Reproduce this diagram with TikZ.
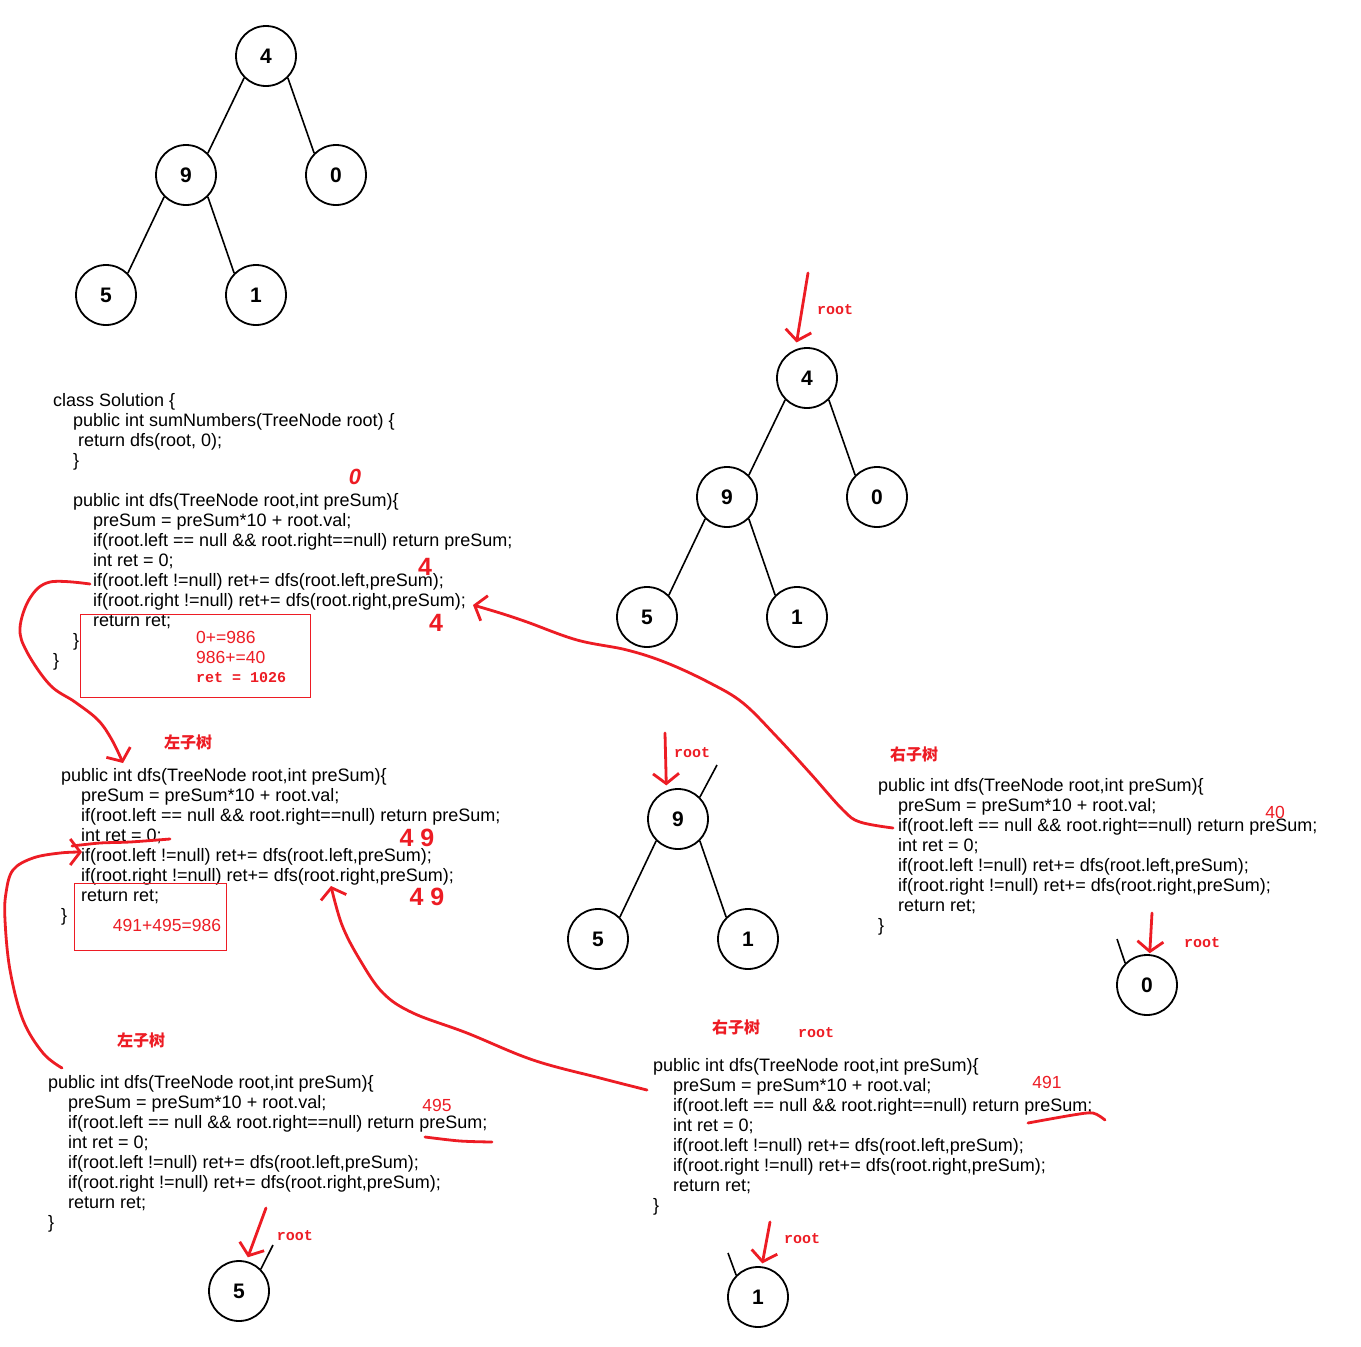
\documentclass[tikz,border=0pt]{standalone}
\usepackage{fontspec}
\usetikzlibrary{arrows.meta}
\newfontfamily\codefont{Liberation Sans}
\newfontfamily\monofont{Liberation Mono}
\newfontfamily\cjkfont{Noto Sans CJK SC}
\definecolor{pred}{HTML}{ED1C24}
\begin{document}
\begin{tikzpicture}[x=1pt,y=-1pt,
 tn/.style={circle,draw,line width=1.8pt,minimum size=60pt,inner sep=0pt,font=\codefont\bfseries\fontsize{21}{21}\selectfont},
 edge/.style={line width=1.6pt},
 code/.style={anchor=north west,align=left,inner sep=0pt,font=\codefont\fontsize{18}{20}\selectfont},
 pen/.style={draw=pred,line width=2.8pt,line cap=round,line join=round},
 hand/.style={-{Straight Barb[length=10pt,width=26pt]}},
 rtxt/.style={text=pred,inner sep=0pt,font=\codefont\fontsize{17.5}{20}\selectfont},
 rootlbl/.style={text=pred,inner sep=0pt,font=\monofont\bfseries\fontsize{15}{15}\selectfont},
 cjk/.style={text=pred,inner sep=0pt,font=\cjkfont\bfseries\fontsize{16}{16}\selectfont},
 hw/.style={text=pred,inner sep=0pt,font=\codefont\bfseries\fontsize{25}{25}\selectfont},
 rbox/.style={draw=pred,line width=1pt},
]
\path[use as bounding box,fill=white] (0,0) rectangle (1361,1347);

% ---------- tree 1 ----------
\node[tn] (a4) at (266,56) {4};
\node[tn] (a9) at (186,175) {9};
\node[tn] (a0) at (336,175) {0};
\node[tn] (a5) at (106,295) {5};
\node[tn] (a1) at (256,295) {1};
\draw[edge] (a4.225) -- (a9.45); \draw[edge] (a4.-45) -- (a0.135);
\draw[edge] (a9.225) -- (a5.45); \draw[edge] (a9.-45) -- (a1.135);

% ---------- tree 2 ----------
\node[tn] (b4) at (807,378) {4};
\node[tn] (b9) at (727,497) {9};
\node[tn] (b0) at (877,497) {0};
\node[tn] (b5) at (647,617) {5};
\node[tn] (b1) at (797,617) {1};
\draw[edge] (b4.225) -- (b9.45); \draw[edge] (b4.-45) -- (b0.135);
\draw[edge] (b9.225) -- (b5.45); \draw[edge] (b9.-45) -- (b1.135);

% ---------- tree 3 ----------
\node[tn] (c9) at (678,819) {9};
\node[tn] (c5) at (598,939) {5};
\node[tn] (c1) at (748,939) {1};
\coordinate (c9s) at (717,765);
\draw[edge] (c9.225) -- (c5.45); \draw[edge] (c9.-45) -- (c1.135); \draw[edge] (c9.45) -- (c9s);

% ---------- single nodes ----------
\node[tn] (d0) at (1147,985) {0};
\coordinate (d0s) at (1117,939);
\draw[edge] (d0.135) -- (d0s);
\node[tn] (e5) at (239,1291) {5};
\coordinate (e5s) at (273,1245);
\draw[edge] (e5.45) -- (e5s);
\node[tn] (f1) at (758,1297) {1};
\coordinate (f1s) at (728,1253);
\draw[edge] (f1.135) -- (f1s);

% ---------- code blocks ----------
\node[code] (code1) at (53,393) {class Solution \{\\
\hspace*{20pt}public int sumNumbers(TreeNode root) \{\\
\hspace*{25pt}return dfs(root, 0);\\
\hspace*{20pt}\}\\[20pt]
\hspace*{20pt}public int dfs(TreeNode root,int preSum)\{\\
\hspace*{40pt}preSum = preSum*10 + root.val;\\
\hspace*{40pt}if(root.left == null \&\& root.right==null) return preSum;\\
\hspace*{40pt}int ret = 0;\\
\hspace*{40pt}if(root.left !=null) ret+= dfs(root.left,preSum);\\
\hspace*{40pt}if(root.right !=null) ret+= dfs(root.right,preSum);\\
\hspace*{40pt}return ret;\\
\hspace*{20pt}\}\\
\}};

\node[code] (code2) at (61,768) {public int dfs(TreeNode root,int preSum)\{\\
\hspace*{20pt}preSum = preSum*10 + root.val;\\
\hspace*{20pt}if(root.left == null \&\& root.right==null) return preSum;\\
\hspace*{20pt}int ret = 0;\\
\hspace*{20pt}if(root.left !=null) ret+= dfs(root.left,preSum);\\
\hspace*{20pt}if(root.right !=null) ret+= dfs(root.right,preSum);\\
\hspace*{20pt}return ret;\\
\}};

\node[code] (code3) at (48,1075) {public int dfs(TreeNode root,int preSum)\{\\
\hspace*{20pt}preSum = preSum*10 + root.val;\\
\hspace*{20pt}if(root.left == null \&\& root.right==null) return preSum;\\
\hspace*{20pt}int ret = 0;\\
\hspace*{20pt}if(root.left !=null) ret+= dfs(root.left,preSum);\\
\hspace*{20pt}if(root.right !=null) ret+= dfs(root.right,preSum);\\
\hspace*{20pt}return ret;\\
\}};

\node[code] (code4) at (653,1058) {public int dfs(TreeNode root,int preSum)\{\\
\hspace*{20pt}preSum = preSum*10 + root.val;\\
\hspace*{20pt}if(root.left == null \&\& root.right==null) return preSum;\\
\hspace*{20pt}int ret = 0;\\
\hspace*{20pt}if(root.left !=null) ret+= dfs(root.left,preSum);\\
\hspace*{20pt}if(root.right !=null) ret+= dfs(root.right,preSum);\\
\hspace*{20pt}return ret;\\
\}};

\node[code] (code5) at (878,778) {public int dfs(TreeNode root,int preSum)\{\\
\hspace*{20pt}preSum = preSum*10 + root.val;\\
\hspace*{20pt}if(root.left == null \&\& root.right==null) return preSum;\\
\hspace*{20pt}int ret = 0;\\
\hspace*{20pt}if(root.left !=null) ret+= dfs(root.left,preSum);\\
\hspace*{20pt}if(root.right !=null) ret+= dfs(root.right,preSum);\\
\hspace*{20pt}return ret;\\
\}};

% ---------- red boxes ----------
\draw[rbox] (80,614) rectangle (310,697);
\node[rtxt,anchor=west] (s1) at (196,637) {0+=986};
\node[rtxt,anchor=west] (s2) at (196,657) {986+=40};
\node[rootlbl,anchor=west] (s3) at (196,678) {ret = 1026};
\draw[rbox] (74,883) rectangle (226,950);
\node[rtxt] (s4) at (167,925) {491+495=986};

% ---------- red labels ----------
\node[cjk] (l1) at (188,742) {左子树};
\node[cjk] (l2) at (141,1040) {左子树};
\node[cjk] (l3) at (736,1027) {右子树};
\node[cjk] (l4) at (914,754) {右子树};
\node[rootlbl] (r1) at (835,310) {root};
\node[rootlbl] (r2) at (692,753) {root};
\node[rootlbl] (r3) at (295,1236) {root};
\node[rootlbl] (r4) at (802,1239) {root};
\node[rootlbl] (r5) at (1202,943) {root};
\node[rootlbl] (r6) at (816,1033) {root};
\node[rtxt] (v1) at (437,1105) {495};
\node[rtxt] (v2) at (1047,1082) {491};
\node[rtxt] (v3) at (1275,812) {40};
\node[hw,font=\codefont\bfseries\itshape\fontsize{22}{22}\selectfont] (h0) at (355,477) {0};
\node[hw] (h1) at (425,567) {4};
\node[hw] (h2) at (436,623) {4};
\node[hw] (h3) at (417,838) {4\hspace{7pt}9};
\node[hw] (h4) at (427,897) {4\hspace{7pt}9};

% ---------- root arrows ----------
\coordinate (p1) at (808,273);
\coordinate (p2) at (665,733);
\coordinate (p3) at (266,1208);
\coordinate (p4) at (770,1222);
\coordinate (p5) at (1152,913);
\draw[pen,hand,shorten >=7pt] (p1) -- (b4.112);
\draw[pen,hand,shorten >=5pt] (p2) -- (c9.112);
\draw[pen,hand,shorten >=4pt] (p3) -- (e5.76);
\draw[pen,hand,shorten >=3pt] (p4) -- (f1.83);
\draw[pen,hand,shorten >=1pt] (p5) -- (d0.85);

% ---------- freehand connectors ----------
\coordinate (qA) at (90,584);  \coordinate (qA2) at (123,763);
\draw[pen,hand] plot[smooth,tension=0.6] coordinates {(qA) (50,582) (30,598) (20,628) (27,652) (50,685) (75,702) (98,720) (112,740) (qA2)};
\coordinate (qB) at (893,828);  \coordinate (qB2) at (473,605);
\draw[pen,hand] plot[smooth,tension=0.6] coordinates {(qB) (860,822) (843,810) (810,773) (777,737) (743,703) (710,683) (667,663) (627,650) (577,640) (527,622) (500,613) (qB2)};
\coordinate (qC) at (62,1068);  \coordinate (qC2) at (82,852);
\draw[pen,hand] plot[smooth,tension=0.6] coordinates {(qC) (43,1053) (23,1020) (10,970) (5,920) (6,893) (13,870) (33,858) (60,853) (qC2)};
\coordinate (qD) at (647,1090);  \coordinate (qD2) at (331,886);
\draw[pen,hand] plot[smooth,tension=0.6] coordinates {(qD) (600,1078) (533,1060) (467,1033) (413,1013) (383,993) (360,960) (342,925) (qD2)};

% ---------- underlines ----------
\draw[pen] plot[smooth] coordinates {(72,846) (100,843) (130,842) (170,839)};
\draw[pen] plot[smooth] coordinates {(425,1137) (460,1141) (492,1142)};
\draw[pen] plot[smooth] coordinates {(1028,1123) (1073,1115) (1093,1113) (1105,1120)};
\end{tikzpicture}
\end{document}
